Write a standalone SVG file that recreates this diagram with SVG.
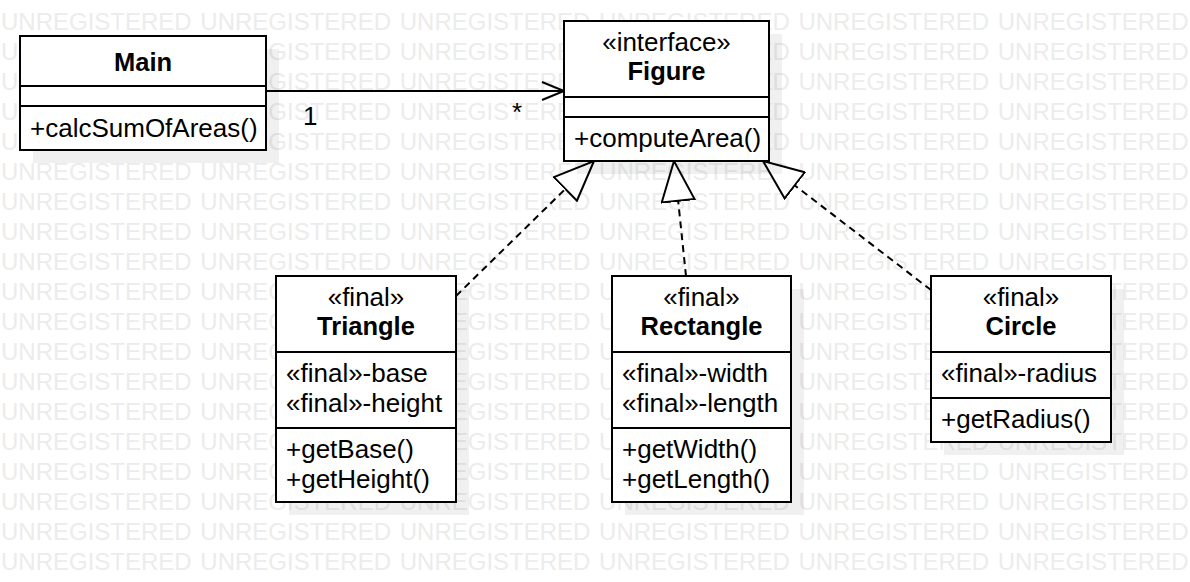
<svg xmlns="http://www.w3.org/2000/svg" width="1190" height="582" viewBox="0 0 1190 582">
<style>
.wm{font-family:"Liberation Sans",Arial,sans-serif;font-size:24px;fill:#ececec;word-spacing:2px}
.box{fill:#fff;stroke:#000;stroke-width:2}
.sh{fill:#000;fill-opacity:0.06}
.div{stroke:#000;stroke-width:2}
.t{font-family:"Liberation Sans",Arial,sans-serif;font-size:26px;fill:#000}
.c{text-anchor:middle}
.b{font-weight:bold;font-size:25.5px}
.dash{fill:none;stroke:#000;stroke-width:2;stroke-dasharray:7 5}
.solid{fill:none;stroke:#000;stroke-width:2}
</style>
<defs>
<marker id="realize" markerUnits="userSpaceOnUse" viewBox="-1 -1 42 35" refX="40" refY="16.5" markerWidth="42" markerHeight="35" orient="auto">
<path d="M0,0 L40,16.5 L0,33 Z" fill="#fff" stroke="#000" stroke-width="2" stroke-dasharray="none"/>
</marker>
<marker id="open" markerUnits="userSpaceOnUse" viewBox="-1 -1 25 20" refX="22" refY="9" markerWidth="25" markerHeight="20" orient="auto">
<path d="M0,0 L22,9 L0,18" fill="none" stroke="#000" stroke-width="2"/>
</marker>
</defs>
<rect width="1190" height="582" fill="#fff"/>
<g id="watermark">
<text class="wm" x="1" y="30">UNREGISTERED UNREGISTERED UNREGISTERED UNREGISTERED UNREGISTERED UNREGISTERED</text>
<text class="wm" x="1" y="60">UNREGISTERED UNREGISTERED UNREGISTERED UNREGISTERED UNREGISTERED UNREGISTERED</text>
<text class="wm" x="1" y="90">UNREGISTERED UNREGISTERED UNREGISTERED UNREGISTERED UNREGISTERED UNREGISTERED</text>
<text class="wm" x="1" y="120">UNREGISTERED UNREGISTERED UNREGISTERED UNREGISTERED UNREGISTERED UNREGISTERED</text>
<text class="wm" x="1" y="150">UNREGISTERED UNREGISTERED UNREGISTERED UNREGISTERED UNREGISTERED UNREGISTERED</text>
<text class="wm" x="1" y="180">UNREGISTERED UNREGISTERED UNREGISTERED UNREGISTERED UNREGISTERED UNREGISTERED</text>
<text class="wm" x="1" y="210">UNREGISTERED UNREGISTERED UNREGISTERED UNREGISTERED UNREGISTERED UNREGISTERED</text>
<text class="wm" x="1" y="240">UNREGISTERED UNREGISTERED UNREGISTERED UNREGISTERED UNREGISTERED UNREGISTERED</text>
<text class="wm" x="1" y="270">UNREGISTERED UNREGISTERED UNREGISTERED UNREGISTERED UNREGISTERED UNREGISTERED</text>
<text class="wm" x="1" y="300">UNREGISTERED UNREGISTERED UNREGISTERED UNREGISTERED UNREGISTERED UNREGISTERED</text>
<text class="wm" x="1" y="330">UNREGISTERED UNREGISTERED UNREGISTERED UNREGISTERED UNREGISTERED UNREGISTERED</text>
<text class="wm" x="1" y="360">UNREGISTERED UNREGISTERED UNREGISTERED UNREGISTERED UNREGISTERED UNREGISTERED</text>
<text class="wm" x="1" y="390">UNREGISTERED UNREGISTERED UNREGISTERED UNREGISTERED UNREGISTERED UNREGISTERED</text>
<text class="wm" x="1" y="420">UNREGISTERED UNREGISTERED UNREGISTERED UNREGISTERED UNREGISTERED UNREGISTERED</text>
<text class="wm" x="1" y="450">UNREGISTERED UNREGISTERED UNREGISTERED UNREGISTERED UNREGISTERED UNREGISTERED</text>
<text class="wm" x="1" y="480">UNREGISTERED UNREGISTERED UNREGISTERED UNREGISTERED UNREGISTERED UNREGISTERED</text>
<text class="wm" x="1" y="510">UNREGISTERED UNREGISTERED UNREGISTERED UNREGISTERED UNREGISTERED UNREGISTERED</text>
<text class="wm" x="1" y="540">UNREGISTERED UNREGISTERED UNREGISTERED UNREGISTERED UNREGISTERED UNREGISTERED</text>
<text class="wm" x="1" y="570">UNREGISTERED UNREGISTERED UNREGISTERED UNREGISTERED UNREGISTERED UNREGISTERED</text>
</g>
<g id="connectors">
<path class="solid" d="M266,91 L564,91" marker-end="url(#open)"/>
<text class="t" x="303" y="125">1</text>
<text class="t" x="512" y="121">*</text>
<path class="dash" d="M456,296 L594,161" marker-end="url(#realize)"/>
<path class="dash" d="M686,276 L674,161" marker-end="url(#realize)"/>
<path class="dash" d="M931,290 L763,161" marker-end="url(#realize)"/>
</g>
<g id="main">
<rect class="sh" x="33" y="49" width="246" height="114"/>
<rect class="box" x="20" y="36" width="246" height="114"/>
<line class="div" x1="20" y1="86" x2="266" y2="86"/>
<line class="div" x1="20" y1="106" x2="266" y2="106"/>
<text class="t c b" x="143" y="71">Main</text>
<text class="t" x="30" y="137">+calcSumOfAreas()</text>
</g>
<g id="figure">
<rect class="sh" x="577" y="34" width="205" height="140"/>
<rect class="box" x="564" y="21" width="205" height="140"/>
<line class="div" x1="564" y1="97" x2="769" y2="97"/>
<line class="div" x1="564" y1="117" x2="769" y2="117"/>
<text class="t c" x="666.5" y="51">«interface»</text>
<text class="t c b" x="666.5" y="80">Figure</text>
<text class="t" x="574" y="147">+computeArea()</text>
</g>
<g id="triangle">
<rect class="sh" x="289" y="289" width="180" height="226"/>
<rect class="box" x="276" y="276" width="180" height="226"/>
<line class="div" x1="276" y1="352" x2="456" y2="352"/>
<line class="div" x1="276" y1="428" x2="456" y2="428"/>
<text class="t c" x="366" y="306">«final»</text>
<text class="t c b" x="366" y="335">Triangle</text>
<text class="t" x="286" y="382">«final»-base</text>
<text class="t" x="286" y="412">«final»-height</text>
<text class="t" x="286" y="458">+getBase()</text>
<text class="t" x="286" y="488">+getHeight()</text>
</g>
<g id="rectangle">
<rect class="sh" x="625" y="289" width="179" height="226"/>
<rect class="box" x="612" y="276" width="179" height="226"/>
<line class="div" x1="612" y1="352" x2="791" y2="352"/>
<line class="div" x1="612" y1="428" x2="791" y2="428"/>
<text class="t c" x="701.5" y="306">«final»</text>
<text class="t c b" x="701.5" y="335">Rectangle</text>
<text class="t" x="622" y="382">«final»-width</text>
<text class="t" x="622" y="412">«final»-length</text>
<text class="t" x="622" y="458">+getWidth()</text>
<text class="t" x="622" y="488">+getLength()</text>
</g>
<g id="circle">
<rect class="sh" x="944" y="289" width="180" height="166"/>
<rect class="box" x="931" y="276" width="180" height="166"/>
<line class="div" x1="931" y1="352" x2="1111" y2="352"/>
<line class="div" x1="931" y1="398" x2="1111" y2="398"/>
<text class="t c" x="1021" y="306">«final»</text>
<text class="t c b" x="1021" y="335">Circle</text>
<text class="t" x="941" y="382">«final»-radius</text>
<text class="t" x="941" y="428">+getRadius()</text>
</g>
</svg>
